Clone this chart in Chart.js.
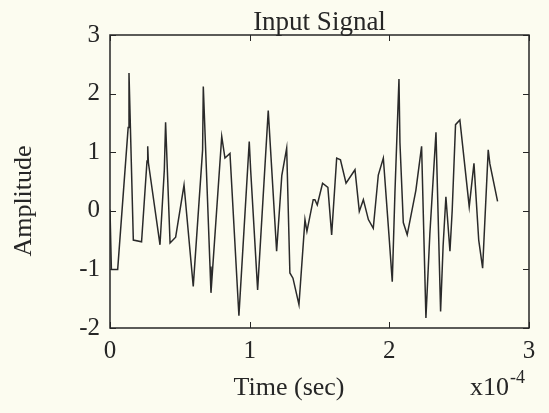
<!DOCTYPE html>
<html>
<head>
<meta charset="utf-8">
<script src="https://cdn.jsdelivr.net/npm/chart.js@4/dist/chart.umd.min.js"></script>
<style>
  html, body { margin: 0; padding: 0; background: #fcfcf0; }
  #wrap { position: relative; width: 549px; height: 413px; }
  canvas { display: block; }
</style>
</head>
<body>
<div id="wrap"><canvas id="c" width="549" height="413"></canvas></div>
<script>
// Time in units of 1e-4 s
const timeValues = [0.00, 0.01, 0.055, 0.13, 0.136, 0.167, 0.226, 0.265, 0.27, 0.275, 0.358, 0.389, 0.398, 0.43, 0.47, 0.53, 0.596, 0.663, 0.668, 0.716, 0.723, 0.80, 0.823, 0.859, 0.923, 0.997, 1.007, 1.057, 1.133, 1.193, 1.23, 1.265, 1.288, 1.31, 1.353, 1.396, 1.41, 1.455, 1.467, 1.484, 1.522, 1.56, 1.587, 1.623, 1.65, 1.69, 1.754, 1.785, 1.814, 1.85, 1.885, 1.921, 1.957, 2.0, 2.021, 2.04, 2.069, 2.076, 2.10, 2.128, 2.19, 2.231, 2.262, 2.29, 2.334, 2.367, 2.385, 2.405, 2.434, 2.45, 2.474, 2.505, 2.572, 2.606, 2.64, 2.668, 2.708, 2.72, 2.775];
const amplitudeValues = [0.02, -1.0, -1.0, 1.42, 2.35, -0.5, -0.53, 0.85, 1.10, 0.82, -0.58, 0.70, 1.51, -0.55, -0.45, 0.44, -1.29, 1.04, 2.12, -0.95, -1.40, 1.27, 0.90, 0.98, -1.79, 1.18, 0.7, -1.35, 1.71, -0.69, 0.6, 1.07, -1.06, -1.15, -1.60, -0.15, -0.35, 0.19, 0.19, 0.10, 0.47, 0.40, -0.41, 0.90, 0.87, 0.47, 0.70, -0.01, 0.19, -0.15, -0.30, 0.61, 0.90, -0.5, -1.21, 0.3, 2.25, 1.16, -0.2, -0.41, 0.35, 1.10, -1.83, -0.4, 1.34, -1.72, -0.6, 0.24, -0.69, 0.0, 1.47, 1.55, 0.07, 0.81, -0.5, -0.98, 1.04, 0.80, 0.16];
const xTicks = [0, 1, 2, 3];
const yTicks = [-2, -1, 0, 1, 2, 3];
const titleText = "Input Signal";
const xLabel = "Time (sec)";
const yLabel = "Amplitude";
const xExpBase = "x10";
const xExpPower = "-4";

const points = timeValues.map((t, i) => ({ x: t, y: amplitudeValues[i] }));
const serif = "'Liberation Serif', 'DejaVu Serif', serif";
const ink = "#262626";

const framePlugin = {
  id: 'frame',
  afterDraw(chart) {
    const { ctx, chartArea: a, scales: { x, y } } = chart;
    ctx.save();
    ctx.strokeStyle = ink;
    ctx.lineWidth = 1.5;
    ctx.strokeRect(a.left, a.top, a.right - a.left, a.bottom - a.top);
    ctx.lineWidth = 1;
    const tl = 6;
    xTicks.forEach(v => {
      const px = Math.round(x.getPixelForValue(v)) + 0.5;
      ctx.beginPath();
      ctx.moveTo(px, a.bottom); ctx.lineTo(px, a.bottom - tl);
      ctx.moveTo(px, a.top); ctx.lineTo(px, a.top + tl);
      ctx.stroke();
    });
    yTicks.forEach(v => {
      const py = Math.round(y.getPixelForValue(v)) + 0.5;
      ctx.beginPath();
      ctx.moveTo(a.left, py); ctx.lineTo(a.left + tl, py);
      ctx.moveTo(a.right, py); ctx.lineTo(a.right - tl, py);
      ctx.stroke();
    });
    ctx.fillStyle = ink;
    // title
    ctx.font = "27px " + serif;
    ctx.textAlign = "center";
    ctx.textBaseline = "alphabetic";
    ctx.fillText(titleText, (a.left + a.right) / 2, 30);
    // x label
    ctx.font = "26px " + serif;
    ctx.fillText(xLabel, 289, 395);
    // exponent
    ctx.textAlign = "left";
    ctx.fillText(xExpBase, 470, 395);
    const w = ctx.measureText(xExpBase).width;
    ctx.font = "18px " + serif;
    ctx.fillText(xExpPower, 470 + w + 1, 383);
    // y label
    ctx.font = "26px " + serif;
    ctx.translate(24, 201);
    ctx.rotate(-Math.PI / 2);
    ctx.textAlign = "center";
    ctx.textBaseline = "middle";
    ctx.fillText(yLabel, 0, 0);
    ctx.restore();
  }
};

new Chart(document.getElementById('c'), {
  type: 'scatter',
  data: {
    datasets: [{
      data: points,
      showLine: true,
      borderColor: '#2a2a2a',
      borderWidth: 1.5,
      pointRadius: 0,
      tension: 0,
      fill: false
    }]
  },
  options: {
    responsive: false,
    animation: false,
    devicePixelRatio: 1,
    layout: { padding: { top: 35, right: 20, left: 0, bottom: 0 } },
    plugins: { legend: { display: false }, tooltip: { enabled: false }, title: { display: false } },
    scales: {
      x: {
        type: 'linear', min: 0, max: 3,
        afterFit(s) { s.height = 85; },
        afterBuildTicks(s) { s.ticks = xTicks.map(v => ({ value: v })); },
        grid: { display: false, drawTicks: false },
        border: { display: false },
        ticks: { color: ink, font: { family: serif, size: 25 }, padding: 8, maxRotation: 0 }
      },
      y: {
        type: 'linear', min: -2, max: 3,
        afterFit(s) { s.width = 110; },
        afterBuildTicks(s) { s.ticks = yTicks.map(v => ({ value: v })); },
        grid: { display: false, drawTicks: false },
        border: { display: false },
        ticks: { color: ink, font: { family: serif, size: 25 }, padding: 10 }
      }
    }
  },
  plugins: [framePlugin]
});
</script>
</body>
</html>
